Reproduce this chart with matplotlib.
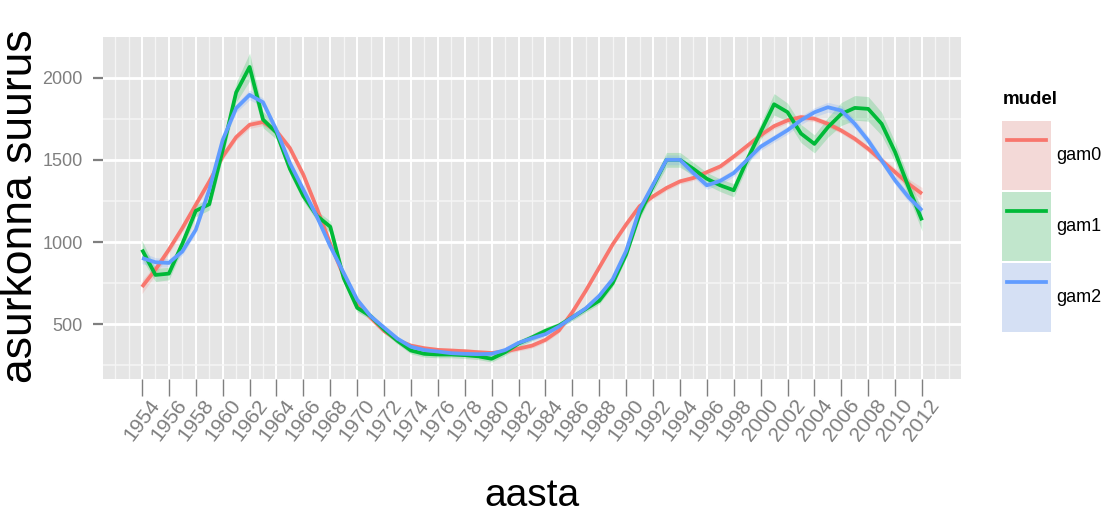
import numpy as np
import matplotlib
matplotlib.use('Agg')
import matplotlib.pyplot as plt
import matplotlib.transforms as mtransforms
from matplotlib.patches import Patch
from matplotlib.lines import Line2D
from matplotlib.legend_handler import HandlerTuple, HandlerLine2D

# population size (asurkonna suurus) smoothed by three models
years = np.arange(1954, 2013)

gam0 = [727, 832, 954, 1085, 1227, 1368, 1520, 1638, 1713, 1730,
        1675, 1571, 1409, 1207, 990, 792, 630, 539, 459, 403,
        370, 354, 344, 340, 336, 330, 325, 335, 352, 370,
        405, 462, 573, 704, 845, 986, 1107, 1218, 1278, 1329,
        1369, 1390, 1425, 1460, 1520, 1585, 1650, 1705, 1740, 1760,
        1750, 1719, 1678, 1628, 1567, 1496, 1425, 1354, 1294]
gam1 = [954, 800, 808, 990, 1190, 1230, 1560, 1910, 2065, 1745,
        1665, 1445, 1280, 1160, 1093, 780, 600, 549, 468, 399,
        340, 320, 316, 316, 312, 305, 290, 330, 383, 420,
        460, 492, 542, 593, 643, 750, 925, 1170, 1340, 1500,
        1500, 1445, 1385, 1345, 1315, 1500, 1670, 1838, 1790, 1660,
        1597, 1698, 1779, 1816, 1810, 1719, 1547, 1334, 1132]
gam2 = [903, 877, 873, 943, 1075, 1318, 1621, 1814, 1895, 1850,
        1680, 1480, 1318, 1156, 974, 812, 650, 549, 480, 412,
        363, 343, 334, 324, 320, 318, 320, 343, 387, 415,
        440, 486, 542, 597, 673, 774, 946, 1198, 1349, 1500,
        1500, 1420, 1345, 1372, 1420, 1500, 1580, 1630, 1680, 1741,
        1789, 1820, 1800, 1719, 1617, 1496, 1375, 1273, 1192]

# half widths of the confidence ribbons
gam0_se = [40, 32, 26, 22, 20, 20, 20, 20, 22, 22,
           20, 20, 20, 20, 18, 16, 15, 15, 15, 15,
           15, 15, 15, 15, 15, 15, 15, 15, 15, 15,
           15, 15, 16, 16, 16, 16, 16, 16, 16, 16,
           16, 16, 16, 16, 16, 18, 18, 18, 18, 18,
           18, 18, 18, 18, 20, 22, 25, 30, 38]
gam1_se = [55, 40, 38, 35, 35, 35, 45, 60, 85, 50,
           40, 35, 32, 30, 35, 30, 25, 20, 20, 20,
           20, 20, 20, 20, 20, 20, 20, 20, 20, 20,
           20, 20, 20, 20, 20, 22, 25, 30, 35, 45,
           45, 40, 38, 38, 40, 40, 50, 65, 55, 55,
           55, 60, 70, 75, 75, 70, 60, 55, 65]
gam2_se = [35, 28, 25, 22, 22, 22, 24, 26, 30, 26,
           22, 20, 20, 20, 18, 16, 15, 15, 15, 15,
           15, 15, 15, 15, 15, 15, 15, 15, 15, 15,
           15, 15, 16, 16, 18, 18, 20, 24, 28, 30,
           30, 26, 24, 22, 22, 22, 22, 22, 24, 26,
           28, 30, 30, 28, 26, 24, 25, 28, 35]

models = ['gam0', 'gam1', 'gam2']
colors = ['#F8766D', '#00BA38', '#619CFF']

label_years = np.arange(1954, 2013, 2)
grid_years = [y for y in range(1952, 2015) if y not in label_years]
y_major = [500, 1000, 1500, 2000]
y_minor = [250, 750, 1250, 1750]

W, H = 1107, 512
plt.rcParams['font.family'] = ['Liberation Sans', 'DejaVu Sans']
grey = '#7F7F7F'


class ShortLine(HandlerLine2D):
    # legend line a bit shorter than its key box
    def create_artists(self, legend, orig_handle, xdescent, ydescent,
                       width, height, fontsize, trans):
        return super().create_artists(legend, orig_handle, xdescent - 3.6,
                                      ydescent, width - 7.2, height,
                                      fontsize, trans)


fig = plt.figure(figsize=(W/100, H/100), dpi=100)
ax = fig.add_axes([103/W, 1-379/H, (961-103)/W, (379-36.7)/H])
ax.set_facecolor('#E5E5E5')
for s in ax.spines.values():
    s.set_visible(False)

series = [gam0, gam1, gam2]
ses = [gam0_se, gam1_se, gam2_se]
for vals, se, c in zip(series, ses, colors):
    vals = np.array(vals, float)
    se = np.array(se, float)
    ax.fill_between(years, vals-se, vals+se, color=c, alpha=0.2, lw=0)
    ax.plot(years, vals, color=c, lw=2.7, solid_capstyle='butt')

span = years[-1] - years[0]
ax.set_xlim(years[0] - 0.05*span, years[-1] + 0.05*span)
ax.set_ylim(167, 2249)

ax.set_xticks(label_years)
ax.set_xticklabels([str(y) for y in label_years], rotation=53, ha='center',
                   va='top', color=grey, fontsize=15)
shift = mtransforms.ScaledTranslation(6/100, 0, fig.dpi_scale_trans)
for lab in ax.get_xticklabels():
    lab.set_transform(lab.get_transform() + shift)
ax.set_xticks(grid_years, minor=True)
ax.set_yticks(y_major)
ax.set_yticklabels([str(v) for v in y_major], color=grey, fontsize=13)
ax.set_yticks(y_minor, minor=True)
ax.tick_params(axis='x', which='major', length=12, width=1.0, color=grey, pad=0)
ax.tick_params(axis='y', which='major', length=7.2, width=1.6, color=grey, pad=7.5)
ax.tick_params(which='minor', length=0)

ax.set_axisbelow(True)
ax.grid(which='major', axis='x', color='white', lw=1.4)
ax.grid(which='major', axis='y', color='white', lw=2.0)
ax.grid(which='minor', axis='x', color='#F5F5F5', lw=0.9)
ax.grid(which='minor', axis='y', color='#F5F5F5', lw=1.1)

fig.text(32/W, 1-206/H, 'asurkonna suurus', rotation=90, ha='center',
         va='baseline', rotation_mode='anchor', fontsize=32)
fig.text(532/W, 1-506/H, 'aasta', ha='center', va='baseline', fontsize=28)

# legend
fig.text(1003/W, 1-104/H, 'mudel', fontweight='bold', fontsize=13.5,
         va='baseline')
handles = []
for c in colors:
    handles.append((Patch(facecolor='#F2F2F2', lw=0),
                    Patch(facecolor=c, alpha=0.2, lw=0),
                    Line2D([], [], color=c, lw=2.7)))
fs = 13
fs_px = fs/72*100
fig.legend(handles, models, loc='upper left',
           bbox_to_anchor=(1002/W, 1-121/H), frameon=False,
           borderpad=0, borderaxespad=0,
           handlelength=49/fs_px, handleheight=(69/fs_px - 0.245)/0.65,
           labelspacing=2/fs_px, handletextpad=5/fs_px, fontsize=fs,
           handler_map={tuple: HandlerTuple(ndivide=1, pad=0),
                        Line2D: ShortLine()})

fig.savefig('out.png', dpi=100)
